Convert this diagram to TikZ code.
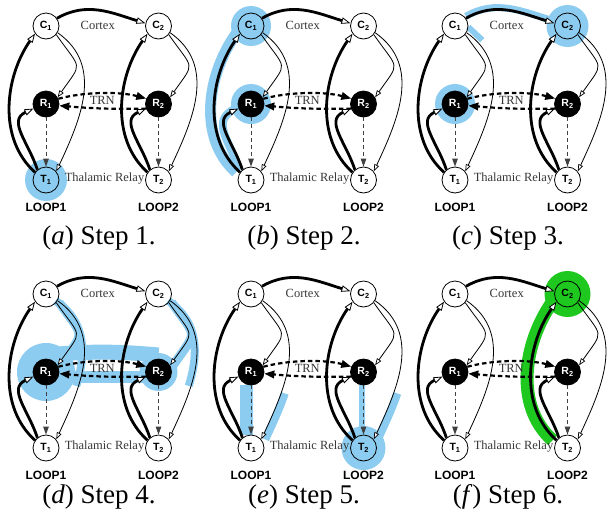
\documentclass[tikz,border=0pt]{standalone}
\usepackage{fontspec}
\setmainfont{Liberation Serif}
\setsansfont{Liberation Sans}
\usetikzlibrary{arrows.meta,calc}
\pgfdeclarelayer{paper}
\pgfdeclarelayer{glow}
\pgfsetlayers{paper,glow,main}
\definecolor{hlblue}{RGB}{140,204,240}
\definecolor{hlgreen}{RGB}{30,200,30}
\definecolor{txtgray}{RGB}{55,55,55}

% curve shapes shared by every loop: #1 panel prefix, #2 loop index
\newcommand\pTC[2]{(#1T#2.145) to[out=138,in=235,looseness=0.95] (#1C#2.215)}
\newcommand\pTR[2]{(#1T#2.130) to[out=108,in=205,looseness=1.2] (#1R#2.200)}
\newcommand\pCR[2]{(#1C#2.-40) to[out=-55,in=55,looseness=1.8] (#1R#2.30)}
\newcommand\pCT[2]{(#1C#2.-30) to[out=-35,in=65,looseness=1.05] (#1T#2.40)}
\newcommand\pTCback[2]{(#1T#2.40) to[out=65,in=-35,looseness=1.05] (#1C#2.-30)}
\newcommand\pCC[1]{(#1C1.35) to[out=30,in=163] (#1C2.168)}

\tikzset{
  unit/.style={circle, draw=black, line width=0.8pt, minimum size=26pt, inner sep=0pt,
    font=\sffamily\bfseries\fontsize{10.5}{10.5}\selectfont},
  filled/.style={fill=black, text=white},
  looplbl/.style={font=\sffamily\bfseries\fontsize{12}{12}\selectfont},
  arealbl/.style={text=txtgray, inner sep=1pt, font=\fontsize{12.5}{12.5}\selectfont},
  captext/.style={font=\fontsize{27}{27}\selectfont},
  thickedge/.style={line width=2.8pt, -{Triangle[fill=white, length=9pt, width=6.5pt, line width=0.8pt]}},
  thinedge/.style={line width=0.8pt, -{Triangle[fill=white, length=7pt, width=5pt, line width=0.7pt]}},
  inhib/.style={black!75, line width=1pt, dash pattern=on 4pt off 3pt, -{Triangle[length=8pt, width=5.5pt]}},
  trnedge/.style={line width=2.2pt, dash pattern=on 4.5pt off 3pt, -{Triangle[length=10pt, width=7.5pt]}},
}

% one thalamo-cortical diagram: #1 prefix, #2 x, #3 y, #4 caption y, #5 caption
\newcommand\panel[5]{%
  \foreach \k/\xx in {1/46,2/158.5}{
    \node[unit] (#1C\k) at (#2+\xx,#3-26) {C\textsubscript{\k}};
    \node[unit,filled] (#1R\k) at (#2+\xx,#3-104) {R\textsubscript{\k}};
    \node[unit] (#1T\k) at (#2+\xx,#3-180) {T\textsubscript{\k}};
    \node[looplbl] (#1L\k) at (#2+\xx,#3-207) {LOOP\k};
    \draw[thickedge] \pTC{#1}{\k};
    \draw[thickedge] \pTR{#1}{\k};
    \draw[thinedge] \pCR{#1}{\k};
    \draw[thinedge] \pCT{#1}{\k};
    \draw[inhib] (#1R\k) -- (#1T\k);
  }
  \draw[thickedge] \pCC{#1};
  \draw[trnedge] (#1R1.23) to[out=15,in=165,looseness=0.8] (#1R2.156);
  \draw[trnedge] (#1R2.200) to[bend left=3] (#1R1.-7);
  \node[arealbl] (#1cx) at ($(#1C1)!0.46!(#1C2)+(0,1)$) {Cortex};
  \node[arealbl] (#1trn) at ($(#1R1)!0.5!(#1R2)+(0,3.5)$) {TRN};
  \node[arealbl] (#1tr) at ($(#1T1)!0.52!(#1T2)+(0,1)$) {Thalamic Relay};
  \node[captext] (#1cap) at (#2+99,#4) {#5};
}

\begin{document}
\begin{tikzpicture}[x=1pt,y=1pt]
\begin{pgfonlayer}{paper}
  \fill[white] (0,0) rectangle (610,-517);
\end{pgfonlayer}
\useasboundingbox (0,0) rectangle (610,-517);

\panel{a}{0}{0}{-238}{(\textit{a}) Step 1.}
\panel{b}{205}{0}{-238}{(\textit{b}) Step 2.}
\panel{c}{409}{0}{-238}{(\textit{c}) Step 3.}
\panel{d}{0}{-268}{-497}{(\textit{d}) Step 4.}
\panel{e}{205}{-268}{-497}{(\textit{e}) Step 5.}
\panel{f}{409}{-268}{-497}{(\textit{f}) Step 6.}

\begin{pgfonlayer}{glow}
  % step 1
  \fill[hlblue] (aT1) circle (21);
  % step 2
  \fill[hlblue] (bC1) circle (20);
  \fill[hlblue] (bR1) circle (20);
  \draw[hlblue, line width=11pt, transform canvas={xshift=-4pt}] \pTC{b}{1};
  \draw[hlblue, line width=8pt, transform canvas={xshift=-3pt}] \pTR{b}{1};
  % step 3
  \fill[hlblue] (cR1) circle (20);
  \fill[hlblue] (cC2) circle (21);
  \draw[hlblue, line width=7pt, transform canvas={yshift=2pt}] \pCC{c};
  \draw[hlblue, line width=6pt] (cC1.-5) -- ++(-43:19);
  % step 4
  \fill[hlblue] (dR1) circle (29);
  \fill[hlblue] (dR2) circle (19);
  \draw[hlblue, line width=15pt] ($(dR1)+(0,17)$) to[bend left=5] ($(dR2)+(0,17)$);
  \draw[hlblue, line width=12pt] ($(dR1)+(0,-5)$) -- ($(dR2)+(0,-5)$);
  \foreach \k in {1,2}{
    \draw[hlblue, line width=9pt, transform canvas={xshift=3pt}] \pCR{d}{\k};
    \draw[hlblue, line width=8pt, dash pattern=on 95pt off 600pt, transform canvas={xshift=-2pt}] \pCT{d}{\k};
  }
  % step 5
  \fill[hlblue] ($(eR1.south)+(-11,0)$) rectangle ($(eT1.north)+(2,0)$);
  \fill[hlblue] ($(eR2.south)+(-5,0)$) rectangle ($(eT2.north)+(1,0)$);
  \fill[hlblue] (eT2) circle (22);
  \draw[hlblue, line width=8pt, dash pattern=on 50pt off 600pt, transform canvas={xshift=4pt}] \pTCback{e}{1};
  \draw[hlblue, line width=8pt, dash pattern=on 50pt off 600pt, transform canvas={xshift=4pt}] \pTCback{e}{2};
  % step 6
  \fill[hlgreen] (fC2) circle (23);
  \draw[hlgreen, line width=13pt, transform canvas={xshift=-4pt}] \pTC{f}{2};
\end{pgfonlayer}
\end{tikzpicture}
\end{document}
